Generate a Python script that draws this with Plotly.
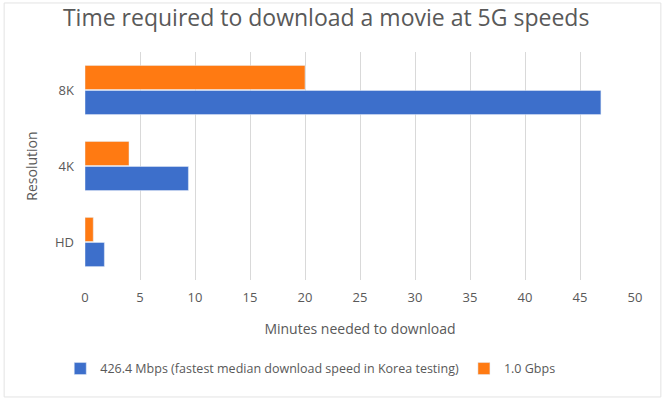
import plotly.graph_objects as go

categories = ["HD", "4K", "8K"]
series_names = ["426.4 Mbps (fastest median download speed in Korea testing)", "1.0 Gbps"]
mbps_426 = [1.76, 9.4, 46.9]
gbps_1 = [0.75, 4.0, 20.0]
x_ticks = [0, 5, 10, 15, 20, 25, 30, 35, 40, 45, 50]

FONT = "Open Sans"
GRAY = "#595959"

fig = go.Figure()
fig.add_trace(go.Bar(y=categories, x=mbps_426, orientation="h", name=series_names[0],
                     marker=dict(color="#3D6FCB")))
fig.add_trace(go.Bar(y=categories, x=gbps_1, orientation="h", name=series_names[1],
                     marker=dict(color="#FF7A12")))

fig.update_layout(
    width=667, height=400,
    margin=dict(l=85, r=32, t=52, b=120, autoexpand=False),
    paper_bgcolor="white", plot_bgcolor="white",
    font=dict(family=FONT, color=GRAY, size=13),
    barmode="group", bargap=0.34, bargroupgap=0.04,
    title=dict(text="Time required to download a movie at 5G speeds",
               x=0.489, xanchor="center", y=0.955, yanchor="middle",
               font=dict(family=FONT, size=23, color=GRAY)),
    xaxis=dict(range=[0, 50], tickvals=x_ticks, showgrid=True, gridcolor="#D9D9D9",
               zeroline=False, showline=False, ticks="", ticklabelstandoff=8,
               automargin=False,
               title=dict(text="Minutes needed to download", font=dict(size=14, color=GRAY),
                          standoff=19)),
    yaxis=dict(categoryorder="array", categoryarray=categories, showgrid=False,
               zeroline=False, showline=False, ticks="", ticklabelstandoff=10,
               automargin=False,
               title=dict(text="Resolution", font=dict(size=14, color=GRAY), standoff=14)),
    legend=dict(orientation="h", x=-0.045, xanchor="left", y=-0.39, yanchor="middle",
                font=dict(size=12.5, color=GRAY), itemwidth=30, traceorder="normal"),
    shapes=[dict(type="rect", xref="paper", yref="paper",
                 x0=-0.147, x1=1.047, y0=-0.513, y1=1.215,
                 line=dict(color="#E3E3E3", width=1), layer="below")],
)

fig.write_html("out.html", config={"displayModeBar": False},
               post_script="document.body.style.margin='0';")
